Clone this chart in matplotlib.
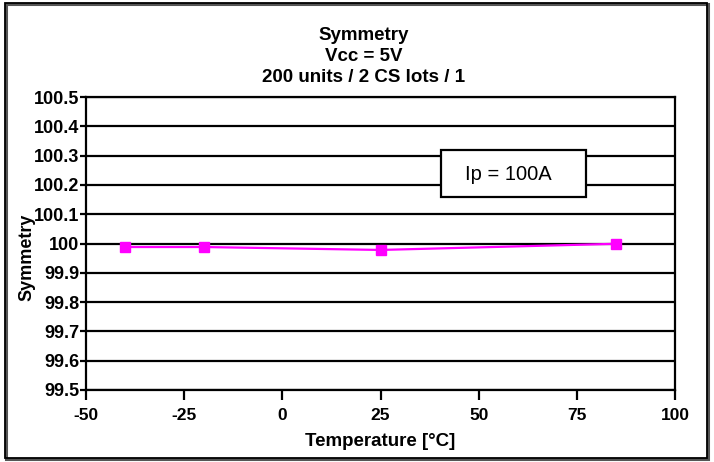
import matplotlib
matplotlib.use('Agg')
import matplotlib.pyplot as plt
from matplotlib.patches import Rectangle

# data
temperature = [-40, -20, 25, 85]
symmetry = [99.988, 99.988, 99.978, 99.999]
x_ticks = [-50, -25, 0, 25, 50, 75, 100]
y_ticks = [99.5, 99.6, 99.7, 99.8, 99.9, 100, 100.1, 100.2, 100.3, 100.4, 100.5]
y_labels = ['99.5', '99.6', '99.7', '99.8', '99.9', '100', '100.1', '100.2', '100.3', '100.4', '100.5']
title_lines = ['Symmetry', 'Vcc = 5V', '200 units / 2 CS lots / 1']
note = 'Ip = 100A'

plt.rcParams['font.family'] = ['Liberation Sans', 'DejaVu Sans']

W, H = 714, 462
fig = plt.figure(figsize=(W / 100, H / 100), dpi=100)


def px(x, y):
    # pixel coords (from top-left) -> figure fraction
    return x / W, 1 - y / H


# outer frame
fig.patches.append(Rectangle(px(6, 459), 702 / W, 455 / H, transform=fig.transFigure,
                             fill=False, edgecolor='#555555', lw=2.2, zorder=0))
fig.patches.append(Rectangle(px(5, 458), 702 / W, 455 / H, transform=fig.transFigure,
                             fill=False, edgecolor='black', lw=1.3, zorder=0))

# title, last line hidden behind the plot area
for i, line in enumerate(title_lines):
    fig.text(*px(364, 36 + 20.5 * i), line, ha='center', va='center',
             fontsize=13.5, fontweight='bold', zorder=0.5)
fig.text(*px(336, 105), 'ASIC', ha='center', va='center',
         fontsize=13.5, fontweight='bold', color='#bbbbbb', zorder=0.5)

ax = fig.add_axes([86 / W, 1 - 390 / H, 589 / W, 293 / H])
ax.set_zorder(1)
ax.set_facecolor('white')

for y in y_ticks:
    ax.axhline(y, color='black', lw=1.6, zorder=1)

ax.plot(temperature, symmetry, color='#ff00ff', lw=1.6, marker='s', markersize=7,
        markerfacecolor='#ff00ff', markeredgecolor='#ff00ff', zorder=3, clip_on=False)

ax.set_xlim(-50, 100)
ax.set_ylim(99.5, 100.5)
ax.set_xticks(x_ticks)
ax.set_xticklabels([str(t) for t in x_ticks])
ax.set_yticks(y_ticks)
ax.set_yticklabels(y_labels)
ax.tick_params(axis='x', direction='out', length=7, width=1.6, pad=6, labelsize=12.5)
ax.tick_params(axis='y', direction='out', length=4, width=1.6, pad=1, labelsize=13)
for lab in ax.get_xticklabels() + ax.get_yticklabels():
    lab.set_fontweight('bold')
for s in ax.spines.values():
    s.set_color('black')
    s.set_linewidth(1.6)

ax.set_xlabel('Temperature [°C]', fontsize=13.5, fontweight='bold', labelpad=7)
fig.text(*px(27, 257), 'Symmetry', rotation=90, ha='center', va='center',
         fontsize=13, fontweight='bold', zorder=5)

# note box
bx0, by0 = px(441, 197)
bx1, by1 = px(586, 150)
fig.patches.append(Rectangle((bx0, by0), bx1 - bx0, by1 - by0, transform=fig.transFigure,
                             facecolor='white', edgecolor='black', lw=1.6, zorder=4))
fig.text(*px(508, 174), note, ha='center', va='center', fontsize=14.5, zorder=5)

fig.savefig('out.png', dpi=100)
